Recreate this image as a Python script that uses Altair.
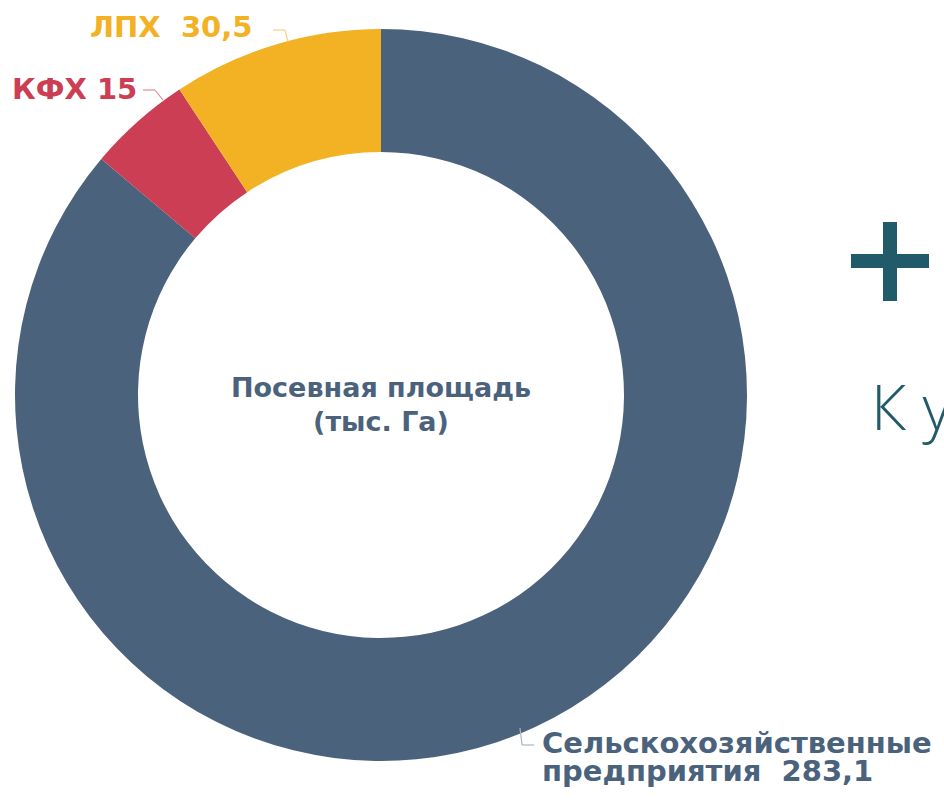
import altair as alt
import pandas as pd

# ---- data ----
categories = ["Сельскохозяйственные предприятия", "КФХ", "ЛПХ"]
values = [283.1, 15, 30.5]
order = [1, 2, 3]
colors = ["#4B627C", "#CB3E53", "#F3B124"]

NBSP = "\u00a0"
label_lines = {
    "ЛПХ": ["ЛПХ " + NBSP + "30,5"],
    "КФХ": ["КФХ 15"],
    "Сельскохозяйственные предприятия": ["Сельскохозяйственные", "предприятия " + NBSP + "283,1"],
}
center_lines = ["Посевная площадь", "(тыс. Га)"]
side_text = "К у"

df = pd.DataFrame({"category": categories, "value": values, "order": order})

CX, CY = 381, 395
FONT = "DejaVu Sans"
SLATE = "#4B627C"
TEAL = "#215A68"

one = alt.Data(values=[{}])

donut = alt.Chart(df).mark_arc(radius=366, radius2=243, stroke=None).encode(
    theta=alt.Theta("value:Q", stack=True),
    order=alt.Order("order:Q"),
    color=alt.Color("category:N", scale=alt.Scale(domain=categories, range=colors), legend=None),
    x=alt.value(CX),
    y=alt.value(CY),
)


def text(s, x, y, size, color, weight="bold", align="left", font=FONT):
    return alt.Chart(one).mark_text(
        text=s, align=align, baseline="alphabetic", font=font, fontSize=size,
        fontWeight=weight, color=color,
    ).encode(x=alt.value(x), y=alt.value(y))


def rule(x, y, x2, y2, color, width=1.2):
    return alt.Chart(one).mark_rule(color=color, strokeWidth=width).encode(
        x=alt.value(x), y=alt.value(y), x2=alt.value(x2), y2=alt.value(y2)
    )


layers = [donut]
# labels
layers.append(text(label_lines["ЛПХ"][0], 90, 37, 29, colors[2]))
layers.append(text(label_lines["КФХ"][0], 12, 99, 29, colors[1]))
layers.append(text(label_lines["Сельскохозяйственные предприятия"][0], 542, 753, 29, SLATE))
layers.append(text(label_lines["Сельскохозяйственные предприятия"][1], 542, 781, 29, SLATE))
# leader lines
layers += [
    rule(273, 30, 285, 30, "#F6CF80"), rule(285, 30, 288, 42, "#F6CF80"),
    rule(143, 90, 155, 90, "#E08A97"), rule(155, 90, 163, 100, "#E08A97"),
    rule(520, 728, 522, 745, "#A9B4C2"), rule(522, 745, 534, 745, "#A9B4C2"),
]
# centre text
layers.append(text(center_lines[0], CX, 397, 27, SLATE, align="center"))
layers.append(text(center_lines[1], CX, 431, 27, SLATE, align="center"))
# decorative plus and cut-off text
layers.append(alt.Chart(one).mark_rule(color=TEAL, strokeWidth=14).encode(
    x=alt.value(890), y=alt.value(222), y2=alt.value(301)))
layers.append(alt.Chart(one).mark_rule(color=TEAL, strokeWidth=14).encode(
    x=alt.value(851), x2=alt.value(929), y=alt.value(261)))
layers.append(text(side_text, 871, 430, 62, TEAL, weight=300, font="Open Sans"))

chart = alt.layer(*layers).properties(
    width=944, height=803, autosize=alt.AutoSizeParams(type="none"), padding=0
).configure_view(stroke=None)

chart.save("out.html", embed_options={"renderer": "svg", "actions": False})
